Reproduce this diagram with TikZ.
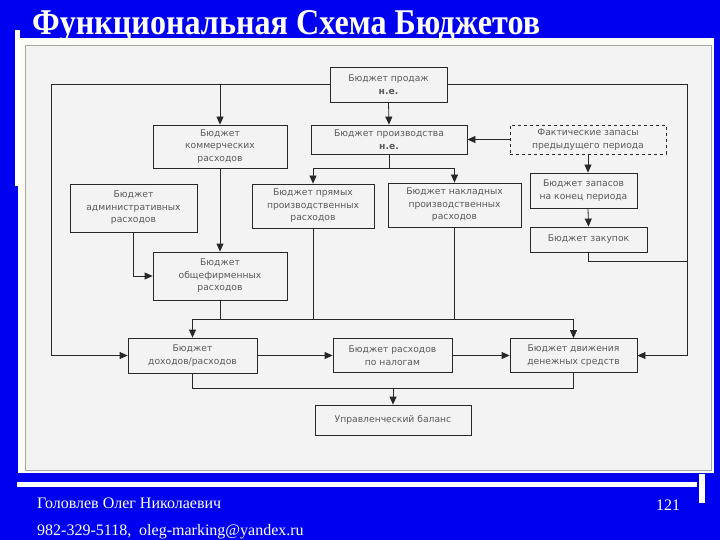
\documentclass[tikz,border=0pt]{standalone}
\usepackage{fontspec}
\setmainfont{Liberation Serif}
\newfontfamily\boxfont{DejaVu Sans}
\usetikzlibrary{arrows.meta}
\definecolor{slideblue}{RGB}{0,0,240}
\definecolor{panel}{RGB}{243,243,243}
\definecolor{paneledge}{RGB}{252,252,246}
\definecolor{ink}{RGB}{40,40,40}
\definecolor{txt}{RGB}{90,90,90}
\begin{document}
\begin{tikzpicture}[x=1pt,y=-1pt,
  bx/.style={draw=ink, line width=0.8pt, fill=panel, inner sep=0pt, align=center,
    font=\boxfont\fontsize{9.2}{12.5}\selectfont, text=txt},
  arr/.style={draw=ink, line width=0.8pt, -{Triangle[length=8pt,width=7pt]}},
  ln/.style={draw=ink, line width=0.8pt},
  foot/.style={text=white, anchor=base west, inner sep=0pt, font=\fontsize{16}{19}\selectfont}]
\useasboundingbox (0,0) rectangle (720,540);
% background
\fill[slideblue] (0,0) rectangle (720,540);
% panel
\fill[paneledge] (18,38) rectangle (714,473);
\fill[panel] (25,45) rectangle (711,470);
\draw[gray!70, line width=0.6pt] (25,45) rectangle (711,470);
% white decorations
\fill[white] (15,30) rectangle (20,186);
\fill[white] (17,482) rectangle (697,487);
\fill[white] (699,474) rectangle (705,503);
% title
\node[anchor=base west, inner sep=0pt, text=white] (title) at (32,35)
  {\resizebox{508pt}{24pt}{\bfseries Функциональная Схема Бюджетов}};
% footer
\node[foot] (author) at (37,508) {Головлев Олег Николаевич};
\node[foot] (contact) at (37,535) {982-329-5118,\ \ oleg-marking@yandex.ru};
\node[foot] (page) at (656,510) {121};

% boxes
\node[bx, minimum width=117pt, minimum height=35pt] (sales) at (388.5,84.5) {Бюджет продаж\\\textbf{н.е.}};
\node[bx, minimum width=134pt, minimum height=43pt] (comm) at (220,146.5) {Бюджет\\коммерческих\\расходов};
\node[bx, minimum width=156pt, minimum height=29pt] (prod) at (389,139.5) {Бюджет производства\\\textbf{н.е.}};
\node[bx, dashed, minimum width=156pt, minimum height=29pt] (fact) at (588,139.5) {Фактические запасы\\предыдущего периода};
\node[bx, minimum width=127pt, minimum height=48pt] (admin) at (133.5,208) {Бюджет\\административных\\расходов};
\node[bx, minimum width=122pt, minimum height=44pt] (direct) at (313,206) {Бюджет прямых\\производственных\\расходов};
\node[bx, minimum width=133pt, minimum height=44pt] (overhead) at (454.5,205) {Бюджет накладных\\производственных\\расходов};
\node[bx, minimum width=107pt, minimum height=35pt] (stock) at (583.5,190.5) {Бюджет запасов\\на конец периода};
\node[bx, minimum width=117pt, minimum height=25pt] (purch) at (588.5,239.5) {Бюджет закупок};
\node[bx, minimum width=134pt, minimum height=48pt] (general) at (220,276) {Бюджет\\общефирменных\\расходов};
\node[bx, minimum width=129pt, minimum height=35pt] (pl) at (192.5,355.5) {Бюджет\\доходов/расходов};
\node[bx, minimum width=119pt, minimum height=34pt] (tax) at (392.5,355.5) {Бюджет расходов\\по налогам};
\node[bx, minimum width=127pt, minimum height=34pt] (cash) at (573.5,355.5) {Бюджет движения\\денежных средств};
\node[bx, minimum width=156pt, minimum height=30pt] (bal) at (393,420) {Управленческий баланс};

% junction coordinates
\coordinate (xL) at (51,0);
\coordinate (xR) at (687,0);
\coordinate (pj) at (389,168);
\coordinate (bus) at (0,319);
\coordinate (bus2) at (0,388);
\coordinate (pur) at (687,261);

% connectors
\draw[arr] (sales.west) -- (sales.west -| xL) |- (pl.west);
\draw[arr] (comm.north |- sales.west) -- (comm.north);
\draw[arr] (sales.east) -- (sales.east -| xR) |- (cash.east);
\draw[arr] (sales.south) -- (prod.north);
\draw[arr] (fact.west) -- (prod.east);
\draw[arr] (fact.south) -- (fact.south |- stock.north);
\draw[arr] (stock.south -| fact.south) -- (purch.north);
\draw[ln] (purch.south) |- (pur);
\draw[ln] (prod.south) -- (pj);
\draw[arr] (pj) -| (direct.north);
\draw[arr] (pj) -| (overhead.north);
\draw[arr] (comm.south) -- (general.north);
\draw[arr] (admin.south) |- (general.west);
\draw[ln] (general.south) -- (general.south |- bus);
\draw[ln] (direct.south) -- (direct.south |- bus);
\draw[ln] (overhead.south) -- (overhead.south |- bus);
\draw[arr] (pl.north |- bus) -- (pl.north);
\draw[arr] (pl.north |- bus) -- (cash.north |- bus) -- (cash.north);
\draw[arr] (pl.east) -- (tax.west);
\draw[arr] (tax.east) -- (cash.west);
\draw[ln] (pl.south) |- (cash.south |- bus2) -- (cash.south);
\draw[arr] (bal.north |- bus2) -- (bal.north);
\end{tikzpicture}
\end{document}
